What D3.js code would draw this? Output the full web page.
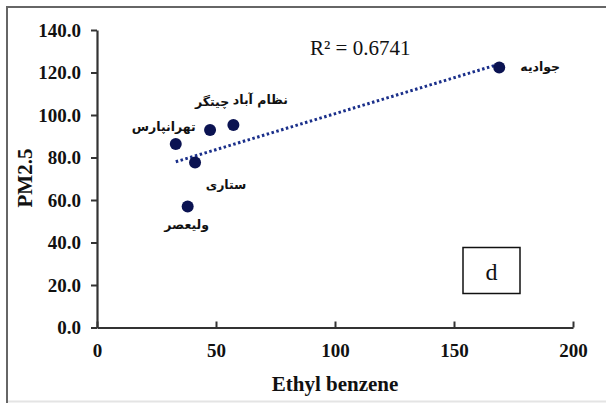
<!DOCTYPE html>
<html><head><meta charset="utf-8">
<script src="https://cdn.jsdelivr.net/npm/d3@7"></script>
<style>body{margin:0;background:#fff}svg{display:block}</style>
</head><body>
<script>
// Data
const stations = ["تهرانپارس", "چیتگر", "نظام آباد", "ستاری", "ولیعصر", "جوادیه"];
const ethylBenzene = [33.1, 47.5, 57.3, 41.2, 38.1, 169.0];
const pm25 = [86.4, 92.9, 95.3, 77.6, 56.9, 122.3];
const xTicks = [0, 50, 100, 150, 200];
const yTicks = [0, 20, 40, 60, 80, 100, 120, 140];
const r2Label = "R² = 0.6741";
const panelLabel = "d";

// Label offsets (layout)
const labelOffsets = [[-12, -16], [2, -28], [27, -24], [31, 23], [-1, 19], [41, 0]];

const W = 606, H = 403;
const svg = d3.select("body").append("svg").attr("width", W).attr("height", H);

// frame
svg.append("line").attr("x1", 7).attr("x2", 7).attr("y1", 6).attr("y2", 403).attr("stroke", "#666").attr("stroke-width", 2);
svg.append("line").attr("x1", 6).attr("x2", 606).attr("y1", 7).attr("y2", 7).attr("stroke", "#666").attr("stroke-width", 2);
svg.append("line").attr("x1", 8).attr("x2", 606).attr("y1", 401.5).attr("y2", 401.5).attr("stroke", "#e4e4e4").attr("stroke-width", 2);

const x = d3.scaleLinear().domain([0, 200]).range([97, 573]);
const y = d3.scaleLinear().domain([0, 140]).range([327.5, 30]);

const serif = "'Liberation Serif','Times New Roman',serif";

const gx = svg.append("g").attr("transform", `translate(0,${y(0)})`)
  .call(d3.axisBottom(x).tickValues(xTicks).tickSize(6).tickSizeOuter(0).tickPadding(8));
const gy = svg.append("g").attr("transform", `translate(${x(0)},0)`)
  .call(d3.axisLeft(y).tickValues(yTicks).tickSize(6).tickSizeOuter(0).tickPadding(10).tickFormat(d3.format(".1f")));
[gx, gy].forEach(g => {
  g.select(".domain").attr("stroke", "#333").attr("stroke-width", 2.2);
  g.selectAll(".tick line").attr("stroke", "#333").attr("stroke-width", 2);
  g.selectAll(".tick text").attr("font-family", serif).attr("font-weight", "bold").attr("font-size", 19).attr("fill", "#111");
});
gx.selectAll(".tick line").attr("y2", -6).attr("y1", 0);
gx.selectAll(".tick text").attr("dy", "0.8em");

// axis titles
svg.append("text").attr("x", 335).attr("y", 391).attr("text-anchor", "middle")
  .attr("font-family", serif).attr("font-weight", "bold").attr("font-size", 21).attr("fill", "#111").text("Ethyl benzene");
svg.append("text").attr("transform", "translate(32,178) rotate(-90)").attr("text-anchor", "middle")
  .attr("font-family", serif).attr("font-weight", "bold").attr("font-size", 21).attr("fill", "#111").text("PM2.5");

// trendline (least squares)
const n = ethylBenzene.length;
const mx = d3.mean(ethylBenzene), my = d3.mean(pm25);
let sxy = 0, sxx = 0;
for (let i = 0; i < n; i++) { sxy += (ethylBenzene[i] - mx) * (pm25[i] - my); sxx += (ethylBenzene[i] - mx) ** 2; }
const slope = sxy / sxx, icpt = my - slope * mx;
const x0 = d3.min(ethylBenzene), x1 = d3.max(ethylBenzene);
svg.append("line").attr("x1", x(x0)).attr("y1", y(icpt + slope * x0)).attr("x2", x(x1)).attr("y2", y(icpt + slope * x1))
  .attr("stroke", "#1a2f8a").attr("stroke-width", 3).attr("stroke-dasharray", "2.5,2.5");

// points
svg.selectAll("circle.pt").data(stations).enter().append("circle").attr("class", "pt")
  .attr("cx", (d, i) => x(ethylBenzene[i])).attr("cy", (d, i) => y(pm25[i])).attr("r", 6)
  .attr("fill", "#0b1352");

// labels
svg.selectAll("text.lbl").data(stations).enter().append("text").attr("class", "lbl")
  .attr("x", (d, i) => x(ethylBenzene[i]) + labelOffsets[i][0])
  .attr("y", (d, i) => y(pm25[i]) + labelOffsets[i][1])
  .attr("text-anchor", "middle").attr("dominant-baseline", "middle")
  .attr("font-family", "'DejaVu Sans',sans-serif").attr("font-weight", "bold").attr("font-size", 12.5).attr("fill", "#111")
  .attr("direction", "rtl")
  .text(d => d);

// R2
svg.append("text").attr("x", 310).attr("y", 55).attr("font-family", serif).attr("font-size", 21).attr("fill", "#111").text(r2Label);

// panel box
svg.append("rect").attr("x", 463).attr("y", 247.5).attr("width", 57).attr("height", 46).attr("fill", "#fff").attr("stroke", "#111").attr("stroke-width", 1.5);
svg.append("text").attr("x", 491.5).attr("y", 280).attr("text-anchor", "middle").attr("font-family", serif).attr("font-size", 24).attr("fill", "#111").text(panelLabel);
</script>
</body></html>
